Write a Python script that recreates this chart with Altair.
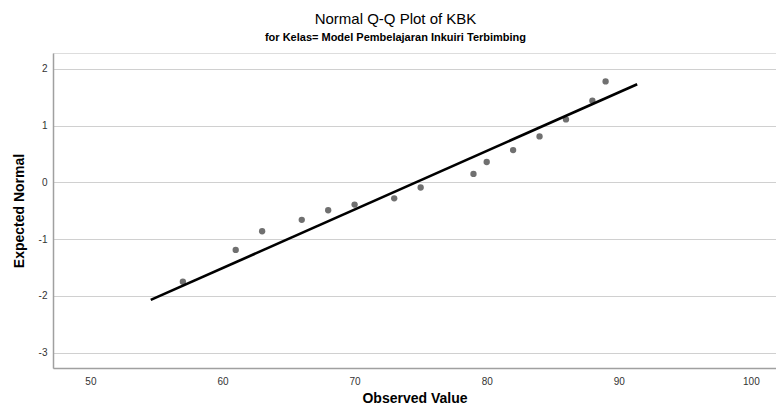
import altair as alt
import pandas as pd

observed = [57, 61, 63, 66, 68, 70, 73, 75, 79, 80, 82, 84, 86, 88, 89]
expected = [-1.75, -1.19, -0.86, -0.66, -0.49, -0.39, -0.28, -0.09,
            0.15, 0.36, 0.57, 0.81, 1.11, 1.44, 1.78]

line_x = [54.57, 91.39]
line_y = [-2.07, 1.73]

x_ticks = [50, 60, 70, 80, 90, 100]
y_ticks = [-3, -2, -1, 0, 1, 2]

pts = pd.DataFrame({"obs": observed, "exp": expected})
ref = pd.DataFrame({"obs": line_x, "exp": line_y})

FONT = "Liberation Sans"

xscale = alt.Scale(domain=[47.17, 101.9], nice=False, zero=False)
yscale = alt.Scale(domain=[-3.27, 2.28], nice=False, zero=False)

xaxis = alt.Axis(title="Observed Value", values=x_ticks, grid=False,
                 labelExpr="'' + datum.value",
                 domainColor="#a0a0a0", domainWidth=1.5, ticks=False,
                 labelPadding=8, labelFontSize=10, labelColor="#333333",
                 labelFont=FONT, titleFont=FONT, titleFontSize=14,
                 titleFontWeight="bold", titleColor="#000000", titlePadding=5)
yaxis = alt.Axis(title="Expected Normal", values=y_ticks, grid=True,
                 labelExpr="'' + datum.value",
                 gridColor="#d0d0d0", gridWidth=1.2,
                 domainColor="#a0a0a0", domainWidth=1.5, ticks=False,
                 labelPadding=6, labelFontSize=10, labelColor="#333333",
                 labelFont=FONT, titleFont=FONT, titleFontSize=14,
                 titleFontWeight="bold", titleColor="#000000", titlePadding=12)

points = alt.Chart(pts).mark_circle(size=40, color="#707070", opacity=1).encode(
    x=alt.X("obs:Q", scale=xscale, axis=xaxis),
    y=alt.Y("exp:Q", scale=yscale, axis=yaxis),
)

line = alt.Chart(ref).mark_line(color="#000000", strokeWidth=2.6).encode(
    x=alt.X("obs:Q", scale=xscale),
    y=alt.Y("exp:Q", scale=yscale),
)

chart = alt.layer(points, line).properties(
    width=723,
    height=315,
    title=alt.Title(
        text="Normal Q-Q Plot of KBK",
        subtitle="for Kelas= Model Pembelajaran Inkuiri Terbimbing",
        anchor="middle",
        frame="group",
        dx=-19,
        font=FONT,
        fontSize=15,
        fontWeight="normal",
        color="#000000",
        subtitleFont=FONT,
        subtitleFontSize=11,
        subtitleFontWeight="bold",
        subtitleColor="#000000",
        subtitlePadding=5,
        offset=10,
    ),
    autosize=alt.AutoSizeParams(type="none"),
    padding={"left": 53, "top": 53, "right": 0, "bottom": 41},
).configure_view(stroke=None).configure(background="#ffffff")

chart.save("out.html", embed_options={"renderer": "svg", "actions": False})
